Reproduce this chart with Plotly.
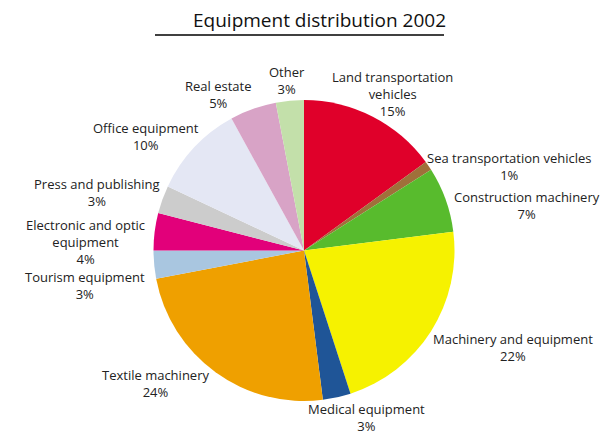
import plotly.graph_objects as go

labels = ["Land transportation vehicles", "Sea transportation vehicles", "Construction machinery",
          "Machinery and equipment", "Medical equipment", "Textile machinery", "Tourism equipment",
          "Electronic and optic equipment", "Press and publishing", "Office equipment",
          "Real estate", "Other"]
values = [15, 1, 7, 22, 3, 24, 3, 4, 3, 10, 5, 3]
label_text = ["Land transportation<br>vehicles", "Sea transportation vehicles", "Construction machinery",
              "Machinery and equipment", "Medical equipment", "Textile machinery", "Tourism equipment",
              "Electronic and optic<br>equipment", "Press and publishing", "Office equipment",
              "Real estate", "Other"]
colors = ["#E0002A", "#A0703A", "#58BB2D", "#F6F200", "#1F5597", "#EFA000", "#A9C6E0",
          "#E2007A", "#CCCCCC", "#E4E7F4", "#D8A3C6", "#C3E0AA"]
# label anchor positions in pixels (x, y center)
label_pos = [(392, 94), (509, 166), (527, 205), (513, 347), (366, 417), (155, 383),
             (85, 285), (85, 242), (97, 193), (146, 136), (218, 95), (287, 80)]

W, H = 600, 436
fig = go.Figure(go.Pie(
    labels=labels, values=values, sort=False, direction="clockwise", rotation=0,
    marker=dict(colors=colors, line=dict(width=0)), textinfo="none", hoverinfo="label+percent",
    showlegend=False,
    domain=dict(x=[152 / W, 456 / W], y=[1 - 401 / H, 1 - 100 / H]),
))

anns = []
for t, v, (px, py) in zip(label_text, values, label_pos):
    anns.append(dict(x=px / W, y=1 - py / H, xref="paper", yref="paper",
                     text=f"{t}<br>{v}%", showarrow=False, xanchor="center", yanchor="middle",
                     align="center", font=dict(family="Open Sans", size=13, color="#222222")))
anns.append(dict(x=319 / W, y=1 - 20 / H, xref="paper", yref="paper", text="Equipment distribution 2002",
                 showarrow=False, xanchor="center", yanchor="middle",
                 font=dict(family="Open Sans", size=19, color="#111111")))

fig.update_layout(
    width=W, height=H, margin=dict(l=0, r=0, t=0, b=0),
    paper_bgcolor="white", plot_bgcolor="white",
    annotations=anns,
    shapes=[dict(type="line", xref="paper", yref="paper", x0=155 / W, x1=444 / W,
                 y0=1 - 35 / H, y1=1 - 35 / H, line=dict(color="black", width=1.5))],
)
fig.write_html("out.html")
